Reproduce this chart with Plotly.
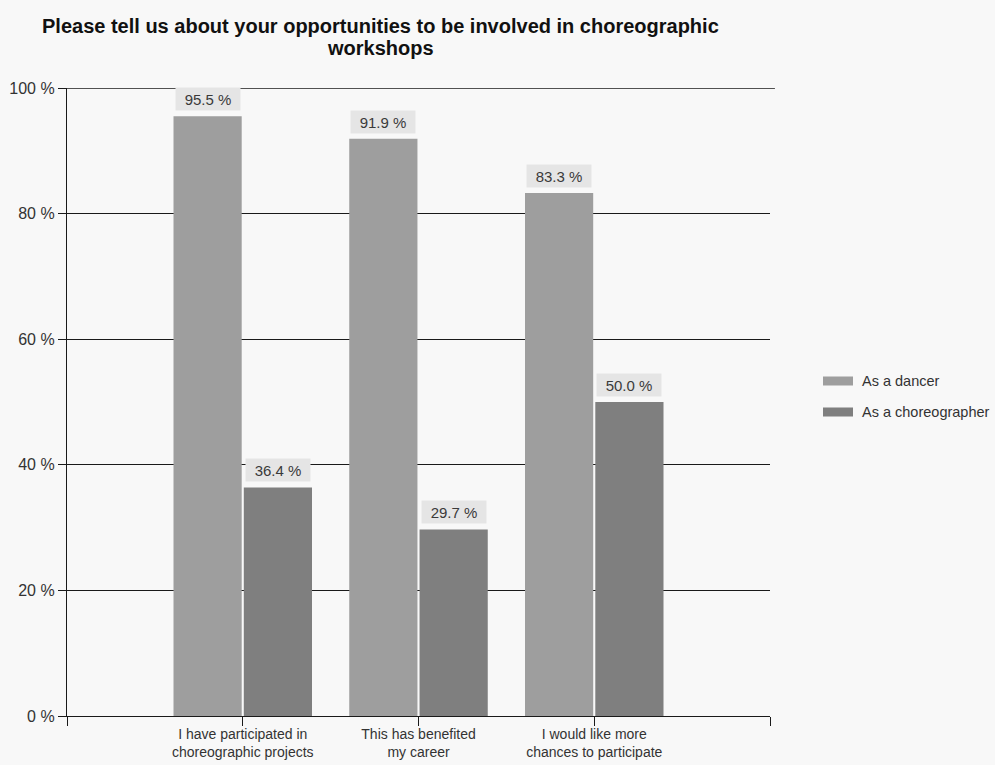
import plotly.graph_objects as go

title_lines = ["Please tell us about your opportunities to be involved in choreographic",
               "workshops"]
categories = ["I have participated in<br>choreographic projects",
              "This has benefited<br>my career",
              "I would like more<br>chances to participate"]
dancer = [95.5, 91.9, 83.3]
choreographer = [36.4, 29.7, 50.0]
series_names = ["As a dancer", "As a choreographer"]
series_colors = ["#9e9e9e", "#7f7f7f"]
y_ticks = [0, 20, 40, 60, 80, 100]
y_tick_labels = ["0 %", "20 %", "40 %", "60 %", "80 %", "100 %"]

FONT = "Liberation Sans, Arial, sans-serif"
pos = list(range(len(categories)))

# plot area geometry (pixels)
L, R, T, B = 67, 225, 88, 49
W, H = 995, 765
PW, PH = W - L - R, H - T - B


def px_x(px):
    return (px - L) / PW


def px_y(py):
    return (H - B - py) / PH


fig = go.Figure()
for vals, name, col in zip([dancer, choreographer], series_names, series_colors):
    fig.add_trace(go.Bar(x=pos, y=vals, name=name, showlegend=False,
                         marker=dict(color=col, line=dict(width=0))))

annotations = []
for i, (d, c) in enumerate(zip(dancer, choreographer)):
    for off, v in ((-0.2, d), (0.2, c)):
        annotations.append(dict(
            x=i + off, y=v, xref="x", yref="y", text=f"{v:.1f} %",
            showarrow=False, yanchor="bottom", yshift=5,
            bgcolor="#e5e5e5", width=62, height=20,
            font=dict(family=FONT, size=15, color="#3a3a3a")))

# title (two lines)
for line, py in zip(title_lines, [26, 48]):
    annotations.append(dict(x=px_x(380), y=px_y(py), xref="paper", yref="paper",
                            text=f"<b>{line}</b>", showarrow=False,
                            xanchor="center", yanchor="middle",
                            font=dict(family=FONT, size=20, color="#111")))

shapes = [dict(type="line", xref="paper", yref="y", x0=0, x1=1.007, y0=100, y1=100,
               line=dict(color="#1a1a1a", width=1.3), layer="below")]

# legend
for name, col, py in zip(series_names, series_colors, [381, 412]):
    shapes.append(dict(type="rect", xref="paper", yref="paper",
                       x0=px_x(823), x1=px_x(853), y0=px_y(py + 4.5), y1=px_y(py - 4.5),
                       fillcolor=col, line=dict(width=0)))
    annotations.append(dict(x=px_x(860), y=px_y(py), xref="paper", yref="paper",
                            text=name, showarrow=False, xanchor="left", yanchor="middle",
                            font=dict(family=FONT, size=14.5, color="#333")))

fig.update_layout(
    width=W, height=H,
    margin=dict(l=L, r=R, t=T, b=B, autoexpand=False),
    paper_bgcolor="#f8f8f8", plot_bgcolor="#f8f8f8",
    barmode="group", bargap=0.2, bargroupgap=0.03,
    showlegend=False,
    font=dict(family=FONT, color="#333"),
    xaxis=dict(range=[-1, 3], tickvals=[-1, 0, 1, 2, 3], ticktext=[""] + categories + [""],
               showgrid=False, zeroline=False, showline=True, linecolor="#1a1a1a",
               linewidth=1.3, ticks="outside", ticklen=9, tickcolor="#1a1a1a", tickwidth=1.3,
               ticklabelstandoff=-4,
               tickfont=dict(family=FONT, size=14, color="#333"), automargin=False),
    yaxis=dict(range=[0, 100], tickvals=y_ticks, ticktext=y_tick_labels,
               showgrid=True, gridcolor="#1a1a1a", gridwidth=1.3, zeroline=False,
               showline=True, linecolor="#1a1a1a", linewidth=1.3,
               ticks="outside", ticklen=8, tickcolor="#1a1a1a", tickwidth=1.3,
               tickfont=dict(family=FONT, size=16, color="#333"), automargin=False),
    annotations=annotations,
    shapes=shapes,
)

fig.write_html("out.html")
